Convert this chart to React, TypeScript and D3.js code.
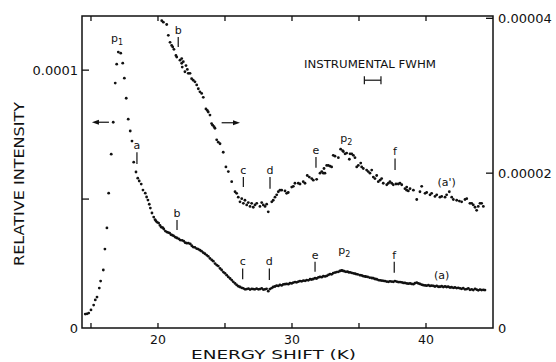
import React from "react";
import * as d3 from "d3";

// Energy shift (K) vs relative intensity, in units of 1e-6
const seriesA: [number, number][] = [
  [14.57, 5.4], [14.7, 5.5], [14.83, 5.8], [15.0, 7.0], [15.2, 8.9], [15.32, 10.9], [15.45, 12.0], [15.62, 15.5],
  [15.72, 18.2], [15.92, 22.5], [16.04, 30.6], [16.19, 38.8], [16.32, 52.3], [16.51, 67.4], [16.66, 79.8], [16.81, 95.0],
  [16.92, 102.3], [17.04, 107.0], [17.22, 106.6], [17.37, 102.7], [17.49, 96.9], [17.63, 89.1], [17.78, 81.0], [17.93, 76.4],
  [18.06, 72.5], [18.19, 64.3], [18.36, 60.5], [18.49, 58.1], [18.6, 57.0], [18.75, 55.8], [18.88, 53.5], [19.05, 52.3],
  [19.15, 50.8], [19.25, 49.6], [19.35, 48.0], [19.43, 46.5], [19.55, 44.6], [19.68, 43.0], [19.78, 42.0], [19.85, 41.5],
  [19.95, 41.0], [20.05, 40.7], [20.15, 39.8], [20.25, 39.1], [20.35, 38.9], [20.43, 38.4], [20.55, 37.6], [20.67, 37.2],
  [20.77, 37.0], [20.87, 36.8], [20.97, 36.2], [21.07, 36.0], [21.17, 35.7], [21.3, 35.2], [21.42, 34.9], [21.55, 34.6],
  [21.66, 34.1], [21.8, 34.0], [21.92, 33.7], [22.03, 33.1], [22.14, 32.9], [22.27, 32.9], [22.41, 32.6], [22.52, 31.9],
  [22.63, 31.4], [22.75, 31.3], [22.88, 30.8], [23.0, 30.6], [23.13, 30.2], [23.25, 29.8], [23.38, 29.2], [23.5, 28.8],
  [23.63, 28.3], [23.75, 27.8], [23.88, 27.0], [24.01, 26.4], [24.13, 25.9], [24.26, 25.0], [24.38, 24.4], [24.5, 24.0],
  [24.63, 23.1], [24.75, 22.5], [24.88, 21.7], [25.0, 21.2], [25.13, 20.5], [25.25, 19.8], [25.38, 19.2], [25.5, 18.6],
  [25.62, 17.9], [25.75, 17.3], [25.87, 16.7], [26.0, 16.2], [26.12, 15.9], [26.25, 15.6], [26.37, 15.4], [26.5, 15.0],
  [26.62, 15.1], [26.75, 15.3], [26.87, 14.9], [27.0, 15.2], [27.11, 15.1], [27.23, 15.0], [27.36, 15.3], [27.49, 15.0],
  [27.61, 15.1], [27.74, 15.4], [27.86, 14.9], [27.98, 15.0], [28.1, 15.2], [28.23, 14.3], [28.35, 15.1], [28.48, 15.5],
  [28.6, 15.9], [28.73, 16.1], [28.85, 16.4], [28.98, 16.3], [29.1, 16.7], [29.23, 16.5], [29.35, 16.9], [29.48, 17.0],
  [29.6, 17.1], [29.73, 17.0], [29.85, 17.4], [29.98, 17.3], [30.1, 17.6], [30.23, 17.8], [30.35, 17.7], [30.48, 18.0],
  [30.6, 18.2], [30.73, 18.1], [30.85, 18.4], [30.98, 18.3], [31.1, 18.6], [31.22, 18.5], [31.35, 18.9], [31.47, 18.8],
  [31.59, 19.0], [31.72, 19.3], [31.84, 19.2], [31.97, 19.6], [32.09, 19.8], [32.22, 19.7], [32.34, 20.1], [32.47, 20.0],
  [32.59, 20.2], [32.72, 20.6], [32.84, 20.9], [32.96, 20.8], [33.08, 21.3], [33.21, 21.5], [33.33, 21.7], [33.46, 21.8],
  [33.58, 22.1], [33.7, 22.3], [33.78, 22.2], [33.9, 22.0], [34.03, 21.8], [34.15, 21.9], [34.23, 21.6], [34.33, 21.6],
  [34.45, 21.4], [34.58, 21.2], [34.7, 21.1], [34.78, 20.9], [34.9, 20.8], [35.07, 20.5], [35.2, 20.4], [35.32, 20.1],
  [35.45, 20.0], [35.52, 19.9], [35.65, 19.8], [35.8, 19.5], [35.95, 19.4], [36.07, 19.3], [36.2, 19.0], [36.32, 18.9],
  [36.45, 18.6], [36.57, 18.5], [36.69, 18.4], [36.81, 18.3], [36.94, 18.2], [37.07, 18.0], [37.19, 17.9], [37.31, 18.1],
  [37.44, 18.0], [37.56, 17.9], [37.68, 18.2], [37.81, 18.0], [37.93, 17.8], [38.06, 17.8], [38.19, 17.7], [38.31, 17.5],
  [38.43, 17.5], [38.56, 17.3], [38.68, 17.2], [38.81, 17.3], [38.93, 17.1], [39.06, 17.0], [39.18, 17.4], [39.31, 17.6],
  [39.43, 17.3], [39.55, 17.1], [39.68, 16.8], [39.8, 16.6], [39.93, 16.5], [40.05, 16.4], [40.18, 16.6], [40.3, 16.3],
  [40.42, 16.4], [40.55, 16.3], [40.67, 16.1], [40.8, 16.3], [40.92, 16.0], [41.04, 16.0], [41.17, 16.2], [41.29, 15.9],
  [41.42, 16.1], [41.54, 15.9], [41.66, 16.0], [41.79, 15.7], [41.91, 15.8], [42.04, 15.6], [42.16, 15.7], [42.29, 15.5],
  [42.41, 15.6], [42.54, 15.4], [42.66, 15.2], [42.78, 15.5], [42.91, 15.0], [43.04, 15.1], [43.16, 15.4], [43.28, 14.8],
  [43.41, 15.0], [43.53, 14.7], [43.66, 15.2], [43.78, 14.9], [43.9, 14.6], [44.03, 14.9], [44.15, 14.7], [44.28, 14.8],
  [44.4, 14.7],
];

// Curve (a'), read on the right-hand axis, units of 1e-6
const seriesAp: [number, number][] = [
  [20.28, 39.7], [20.4, 39.5], [20.65, 39.2], [20.77, 37.8], [20.9, 36.9], [21.02, 36.5], [21.1, 36.3], [21.19, 36.0],
  [21.34, 35.2], [21.4, 35.0], [21.64, 34.6], [21.77, 34.8], [21.77, 34.2], [21.81, 33.7], [21.89, 34.4], [22.01, 33.1],
  [22.09, 33.9], [22.19, 33.4], [22.26, 32.9], [22.39, 32.9], [22.51, 32.2], [22.63, 32.0], [22.76, 31.8], [22.89, 31.4],
  [23.01, 30.9], [23.13, 30.5], [23.26, 30.3], [23.38, 29.8], [23.58, 28.3], [23.68, 28.1], [23.75, 27.9], [23.88, 27.5],
  [24.0, 26.4], [24.08, 26.2], [24.18, 26.0], [24.25, 25.8], [24.38, 24.3], [24.5, 24.0], [24.63, 23.8], [24.87, 22.7],
  [25.07, 20.8], [25.25, 20.2], [25.5, 18.9], [25.75, 17.6], [25.87, 17.4], [25.99, 16.9], [26.12, 16.3], [26.25, 16.7],
  [26.37, 16.1], [26.49, 16.5], [26.62, 15.9], [26.74, 16.2], [26.87, 15.7], [26.99, 16.1], [27.11, 15.6], [27.24, 15.9],
  [27.37, 16.1], [27.61, 15.7], [27.74, 16.2], [27.86, 15.9], [27.99, 15.7], [28.11, 16.0], [28.23, 15.0], [28.49, 16.3],
  [28.6, 16.5], [28.73, 16.9], [28.86, 17.2], [28.98, 17.6], [29.1, 17.8], [29.23, 17.8], [29.48, 17.7], [29.6, 17.4],
  [29.72, 17.5], [29.98, 18.2], [30.1, 18.3], [30.22, 18.7], [30.47, 18.7], [30.6, 18.6], [30.84, 18.9], [30.97, 18.7],
  [31.14, 19.7], [31.29, 19.5], [31.47, 19.3], [31.59, 19.1], [31.84, 19.2], [32.09, 20.0], [32.22, 20.2], [32.34, 20.0],
  [32.39, 20.6], [32.46, 20.0], [32.59, 21.0], [32.71, 21.0], [32.84, 20.9], [32.96, 20.8], [33.08, 22.3], [33.21, 22.2],
  [33.46, 22.0], [33.63, 23.1], [33.78, 22.9], [33.83, 22.8], [33.96, 22.5], [34.08, 22.6], [34.28, 21.8], [34.33, 22.5],
  [34.46, 22.5], [34.58, 22.3], [34.7, 22.0], [34.83, 20.8], [34.95, 21.0], [35.13, 21.3], [35.2, 20.8], [35.32, 20.6],
  [35.57, 20.4], [35.69, 20.2], [35.82, 20.0], [35.95, 20.4], [36.07, 19.5], [36.19, 19.3], [36.32, 19.7], [36.44, 18.9],
  [36.57, 19.1], [36.69, 19.3], [36.81, 18.7], [37.07, 18.5], [37.19, 18.7], [37.31, 18.9], [37.44, 18.7], [37.56, 18.5],
  [37.76, 18.6], [37.93, 18.6], [38.06, 18.7], [38.19, 18.5], [38.43, 18.0], [38.56, 17.8], [38.56, 18.2], [38.68, 17.7],
  [38.81, 18.0], [39.06, 17.8], [39.31, 16.6], [39.55, 17.6], [39.68, 18.3], [39.93, 17.4], [40.05, 17.5], [40.3, 17.2],
  [40.42, 17.4], [40.67, 17.0], [40.8, 17.2], [41.04, 16.9], [41.17, 17.0], [41.42, 16.9], [41.54, 17.2], [41.74, 17.6],
  [41.92, 16.9], [42.04, 16.6], [42.29, 16.5], [42.49, 16.4], [42.66, 16.3], [42.91, 16.6], [43.04, 16.7], [43.28, 16.1],
  [43.41, 16.1], [43.53, 15.9], [43.66, 15.6], [43.78, 15.2], [43.9, 15.7], [44.03, 16.1], [44.15, 16.1], [44.28, 15.7],
];

const xTicks = [15, 20, 25, 30, 35, 40];
const xTickLabels = [20, 30, 40];
const leftTicks = [50, 100];
const leftLabels: [number, string][] = [[0, "0"], [100, "0.0001"]];
const rightTicks = [20, 40];
const rightLabels: [number, string][] = [[0, "0"], [20, "0.00002"], [40, "0.00004"]];

// annotation letters: [label, energy, tickLow, tickHigh, axis]
const peakMarks: [string, number, number, number, "L" | "R"][] = [
  ["a", 18.43, 63.6, 68.2, "L"],
  ["b", 21.42, 38.0, 41.9, "L"],
  ["c", 26.32, 18.9, 23.1, "L"],
  ["d", 28.31, 18.6, 23.1, "L"],
  ["e", 31.72, 21.8, 25.7, "L"],
  ["f", 37.63, 21.4, 25.7, "L"],
  ["b", 21.51, 36.3, 37.6, "R"],
  ["c", 26.37, 18.2, 19.5, "R"],
  ["d", 28.36, 18.0, 19.5, "R"],
  ["e", 31.79, 20.7, 22.1, "R"],
  ["f", 37.69, 20.4, 21.9, "R"],
];
// peak labels with subscripts: [main, sub, energy, value, axis]
const peakNames: [string, string, number, number, "L" | "R"][] = [
  ["p", "1", 16.95, 110.9, "L"],
  ["p", "2", 33.9, 28.7, "L"],
  ["p", "2", 34.05, 24.0, "R"],
];
const curveNames: [string, number, number, "L" | "R"][] = [
  ["(a)", 41.17, 19.0, "L"],
  ["(a')", 41.54, 18.3, "R"],
];
const fwhm = { from: 35.4, to: 36.64, level: 96.1, labelAt: 35.82, labelLevel: 100.8 };
const arrows: [number, number, number][] = [
  // from energy, to energy, level (left axis)
  [16.34, 15.07, 79.8],
  [24.75, 26.12, 79.6],
];

const FONT = "'DejaVu Sans', sans-serif";

export default function App() {
  const x = d3.scaleLinear().domain([14.33, 45]).range([82, 493]);
  const yL = d3.scaleLinear().domain([0, 121]).range([328, 16]);
  const yR = d3.scaleLinear().domain([0, 40.3]).range([328, 16]);
  const ys = (a: "L" | "R") => (a === "L" ? yL : yR);
  const [x0, x1] = x.range();
  const [yb, yt] = yL.range();

  return (
    <svg width={556} height={362} style={{ position: "absolute", left: 0, top: 0, background: "#fff" }}>
      <rect x={0} y={0} width={556} height={362} fill="#fff" />
      {/* frame */}
      <rect x={x0} y={yt} width={x1 - x0} height={yb - yt} fill="none" stroke="#111" strokeWidth={1.5} />
      {/* x ticks */}
      {xTicks.map((t) => (
        <g key={"xt" + t} stroke="#111" strokeWidth={1.3}>
          <line x1={x(t)} x2={x(t)} y1={yb} y2={yb - 5} />
          <line x1={x(t)} x2={x(t)} y1={yt} y2={yt + 5} />
        </g>
      ))}
      {xTickLabels.map((t) => (
        <text key={"xl" + t} x={x(t)} y={yb + 15.5} textAnchor="middle" fontFamily={FONT} fontSize={12.5} fill="#111">
          {t}
        </text>
      ))}
      {leftTicks.map((t) => (
        <line key={"lt" + t} x1={x0} x2={x0 + 7} y1={yL(t)} y2={yL(t)} stroke="#111" strokeWidth={1.3} />
      ))}
      {leftLabels.map(([v, s]) => (
        <text key={"ll" + s} x={x0 - 4} y={yL(v)} dy="0.36em" textAnchor="end" fontFamily={FONT} fontSize={13} fill="#111">
          {s}
        </text>
      ))}
      {rightTicks.map((t) => (
        <line key={"rt" + t} x1={x1} x2={x1 - 7} y1={yR(t)} y2={yR(t)} stroke="#111" strokeWidth={1.3} />
      ))}
      {rightLabels.map(([v, s]) => (
        <text key={"rl" + s} x={x1 + 5} y={yR(v)} dy="0.36em" textAnchor="start" fontFamily={FONT} fontSize={13} fill="#111">
          {s}
        </text>
      ))}
      {/* axis titles */}
      <text
        transform={`translate(24, ${(yb + yt) / 2 + 12}) rotate(-90)`}
        textAnchor="middle"
        fontFamily={FONT}
        fontSize={14}
        textLength={164}
        lengthAdjust="spacingAndGlyphs"
        fill="#111"
      >
        RELATIVE INTENSITY
      </text>
      <text
        x={(x0 + x1) / 2 - 14}
        y={359}
        textAnchor="middle"
        fontFamily={FONT}
        fontSize={12}
        textLength={165}
        lengthAdjust="spacingAndGlyphs"
        fill="#111"
      >
        ENERGY SHIFT (K)
      </text>
      {/* data */}
      <g fill="#111">
        {seriesA.map(([k, v], i) => (
          <circle key={"a" + i} cx={x(k)} cy={yL(v)} r={1.4} />
        ))}
        {seriesAp.map(([k, v], i) => (
          <circle key={"ap" + i} cx={x(k)} cy={yR(v)} r={1.4} />
        ))}
      </g>
      {/* peak marks */}
      {peakMarks.map(([lab, k, lo, hi, ax], i) => {
        const s = ys(ax);
        return (
          <g key={"pm" + i}>
            <line x1={x(k)} x2={x(k)} y1={s(lo)} y2={s(hi)} stroke="#111" strokeWidth={1.2} />
            <text x={x(k)} y={s(hi) - 3} textAnchor="middle" fontFamily={FONT} fontSize={11} fill="#111">
              {lab}
            </text>
          </g>
        );
      })}
      {peakNames.map(([m, sub, k, v, ax], i) => (
        <text key={"pn" + i} x={x(k)} y={ys(ax)(v)} textAnchor="middle" fontFamily={FONT} fontSize={11} fill="#111">
          {m}
          <tspan fontSize={8} dy={3}>
            {sub}
          </tspan>
        </text>
      ))}
      {curveNames.map(([s, k, v, ax]) => (
        <text key={s} x={x(k)} y={ys(ax)(v)} textAnchor="middle" fontFamily={FONT} fontSize={11} fill="#111">
          {s}
        </text>
      ))}
      {/* instrumental FWHM */}
      <text
        x={x(fwhm.labelAt)}
        y={yL(fwhm.labelLevel)}
        textAnchor="middle"
        fontFamily={FONT}
        fontSize={11}
        textLength={132}
        lengthAdjust="spacingAndGlyphs"
        fill="#111"
      >
        INSTRUMENTAL FWHM
      </text>
      <g stroke="#111" strokeWidth={1.2}>
        <line x1={x(fwhm.from)} x2={x(fwhm.to)} y1={yL(fwhm.level)} y2={yL(fwhm.level)} />
        <line x1={x(fwhm.from)} x2={x(fwhm.from)} y1={yL(fwhm.level) - 4} y2={yL(fwhm.level) + 4} />
        <line x1={x(fwhm.to)} x2={x(fwhm.to)} y1={yL(fwhm.level) - 4} y2={yL(fwhm.level) + 4} />
      </g>
      {/* arrows */}
      {arrows.map(([from, to, lvl], i) => {
        const xa = x(from);
        const xb = x(to);
        const y = yL(lvl);
        const dir = Math.sign(xb - xa);
        return (
          <g key={"ar" + i}>
            <line x1={xa} x2={xb - dir * 5} y1={y} y2={y} stroke="#111" strokeWidth={1.2} />
            <path d={`M${xb},${y} L${xb - dir * 7},${y - 2.5} L${xb - dir * 7},${y + 2.5} Z`} fill="#111" />
          </g>
        );
      })}
    </svg>
  );
}
